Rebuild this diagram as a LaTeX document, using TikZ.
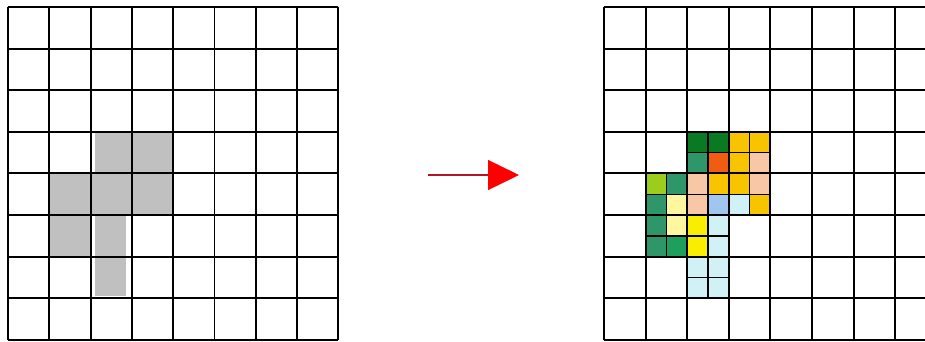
\documentclass[tikz,border=0pt]{standalone}
\usepackage{xcolor}
\usetikzlibrary{arrows.meta}
\definecolor{gcell}{RGB}{192,192,192}
\definecolor{dkgreen}{RGB}{10,122,34}
\definecolor{teal}{RGB}{46,150,104}
\definecolor{mgreen}{RGB}{30,160,92}
\definecolor{ygreen}{RGB}{156,204,30}
\definecolor{orred}{RGB}{240,92,18}
\definecolor{gold}{RGB}{248,196,0}
\definecolor{peach}{RGB}{248,200,166}
\definecolor{ltyellow}{RGB}{255,246,160}
\definecolor{yellow}{RGB}{250,238,0}
\definecolor{ltblue}{RGB}{160,198,240}
\definecolor{ltcyan}{RGB}{208,242,246}
\definecolor{arrline}{RGB}{180,20,40}
\tikzset{
  gridln/.style={draw=black, line width=1.9pt},
  subcell/.style={draw=black, line width=1.4pt},
  marr/.style={-{Triangle[length=31pt,width=30pt,color=red]}, draw=arrline, line width=1.3pt}
}
\begin{document}
\begin{tikzpicture}[x=1pt,y=-1pt]
  \useasboundingbox (0,0) rectangle (925,341);
  \clip (0,0) rectangle (925,341);
  % left grid, gray cells
  \begin{scope}[shift={(8,7)}, x=41.3pt, y=-41.6pt]
    \fill[gcell] (2.1,3) rectangle (4,4);
    \fill[gcell] (1,4) rectangle (4,5);
    \fill[gcell] (1,5) rectangle (2,6);
    \fill[gcell] (2.1,5) rectangle (2.85,6);
    \fill[gcell] (2.1,6) rectangle (2.85,6.95);
    \foreach \i in {0,...,8} {
      \draw[gridln] (\i,0) -- (\i,8);
      \draw[gridln] (0,\i) -- (8,\i);
    }
  \end{scope}
  % arrow
  \coordinate (arrtail) at (428,175);
  \coordinate (arrtip) at (519,175);
  \draw[marr] (arrtail) -- (arrtip);
  % right grid, coloured half cells
  \begin{scope}[shift={(604,7)}, x=20.8pt, y=-20.8pt]
    \foreach \h/\v/\c in {4/6/dkgreen,5/6/dkgreen,6/6/gold,7/6/gold,
      4/7/teal,5/7/orred,6/7/gold,7/7/peach,
      2/8/ygreen,3/8/teal,4/8/peach,5/8/gold,6/8/gold,7/8/peach,
      2/9/teal,3/9/ltyellow,4/9/peach,5/9/ltblue,6/9/ltcyan,7/9/gold,
      2/10/teal,3/10/ltyellow,4/10/yellow,5/10/ltcyan,
      2/11/teal,3/11/mgreen,4/11/yellow,5/11/ltcyan,
      4/12/ltcyan,5/12/ltcyan,4/13/ltcyan,5/13/ltcyan}
      \filldraw[subcell, fill=\c] (\h,\v) rectangle ++(1,1);
  \end{scope}
  \begin{scope}[shift={(604,7)}, x=41.6pt, y=-41.6pt]
    \foreach \i in {0,...,8} {
      \draw[gridln] (\i,0) -- (\i,8);
      \draw[gridln] (0,\i) -- (8,\i);
    }
  \end{scope}
\end{tikzpicture}
\end{document}
